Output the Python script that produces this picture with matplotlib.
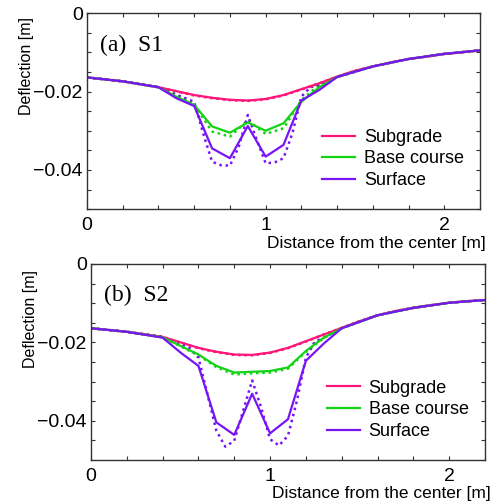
import numpy as np
import matplotlib.pyplot as plt
import matplotlib
from matplotlib.ticker import MultipleLocator, FuncFormatter

matplotlib.rcParams.update({'font.family': ['Liberation Sans', 'DejaVu Sans'],
                            'font.size': 11})

# distance from the center [m]
x_smooth = [0, 0.2, 0.4, 0.6, 0.7, 0.8, 0.9, 1.0, 1.1, 1.2, 1.3, 1.4,
            1.5, 1.6, 1.7, 1.8, 1.9, 2.0, 2.1, 2.2]
x_mid = [0, 0.2, 0.4, 0.5, 0.6, 0.7, 0.8, 0.9, 1.0, 1.1, 1.2, 1.3, 1.4,
         1.6, 1.8, 2.0, 2.2]
x_dot = [0, 0.2, 0.4, 0.5, 0.55, 0.6, 0.65, 0.7, 0.75, 0.8, 0.85, 0.9,
         0.95, 1.0, 1.05, 1.1, 1.15, 1.2, 1.25, 1.3, 1.4, 1.6, 1.8, 2.0, 2.2]

# (a) S1
s1_sub = [-0.0164, -0.0174, -0.0189, -0.0209, -0.0216, -0.0221, -0.0223, -0.0219,
          -0.0209, -0.0194, -0.0179, -0.0162, -0.0147, -0.0136, -0.0126, -0.0117,
          -0.0111, -0.0104, -0.0100, -0.0095]
s1_sub_d = [-0.0164, -0.0174, -0.0189, -0.0210, -0.0217, -0.0222, -0.0224, -0.0220,
            -0.0210, -0.0195, -0.0179, -0.0162, -0.0147, -0.0136, -0.0126, -0.0117,
            -0.0111, -0.0104, -0.0100, -0.0095]
s1_base = [-0.0164, -0.0174, -0.0189, -0.0213, -0.0234, -0.0289, -0.0305, -0.0279,
           -0.0300, -0.0281, -0.0226, -0.0189, -0.0163, -0.0136, -0.0117, -0.0104, -0.0095]
s1_base_d = [-0.0164, -0.0174, -0.0189, -0.0207, -0.0234, -0.0302, -0.0315, -0.0274,
             -0.0308, -0.0294, -0.0222, -0.0183, -0.0163, -0.0136, -0.0117, -0.0104, -0.0095]
s1_surf = [-0.0164, -0.0174, -0.0189, -0.0217, -0.0237, -0.0345, -0.0370, -0.0288,
           -0.0366, -0.0336, -0.0223, -0.0196, -0.0163, -0.0136, -0.0117, -0.0104, -0.0095]
s1_surf_d = [-0.0164, -0.0174, -0.0189, -0.0209, -0.0217, -0.0226, -0.0306, -0.0379,
             -0.0388, -0.0389, -0.0340, -0.0260, -0.0323, -0.0383, -0.0381, -0.0370,
             -0.0306, -0.0213, -0.0189, -0.0183, -0.0163, -0.0136, -0.0117, -0.0104,
             -0.0095]

# (b) S2
s2_sub = [-0.0164, -0.0173, -0.0186, -0.0214, -0.0224, -0.0231, -0.0232, -0.0226,
          -0.0214, -0.0197, -0.0180, -0.0163, -0.0146, -0.0131, -0.0120, -0.0112,
          -0.0105, -0.0099, -0.0095, -0.0092]
s2_sub_d = [-0.0164, -0.0173, -0.0186, -0.0215, -0.0225, -0.0232, -0.0233, -0.0227,
            -0.0215, -0.0198, -0.0180, -0.0163, -0.0146, -0.0131, -0.0120, -0.0112,
            -0.0105, -0.0099, -0.0095, -0.0092]
s2_base = [-0.0164, -0.0173, -0.0187, -0.0209, -0.0231, -0.0260, -0.0277, -0.0275,
           -0.0273, -0.0264, -0.0222, -0.0188, -0.0164, -0.0131, -0.0112, -0.0099, -0.0092]
s2_base_d = [-0.0164, -0.0173, -0.0187, -0.0210, -0.0233, -0.0263, -0.0282, -0.0279,
             -0.0277, -0.0267, -0.0224, -0.0189, -0.0164, -0.0131, -0.0112, -0.0099, -0.0092]
s2_surf = [-0.0164, -0.0173, -0.0188, -0.0226, -0.0260, -0.0404, -0.0436, -0.0331,
           -0.0432, -0.0396, -0.0247, -0.0203, -0.0164, -0.0131, -0.0112, -0.0099, -0.0092]
s2_surf_d = [-0.0164, -0.0173, -0.0186, -0.0205, -0.0214, -0.0239, -0.0332, -0.0425,
             -0.0466, -0.0451, -0.0374, -0.0297, -0.0366, -0.0447, -0.0463, -0.0438,
             -0.0349, -0.0239, -0.0198, -0.0188, -0.0164, -0.0131, -0.0112, -0.0099,
             -0.0092]

c_sub = '#ff1478'
c_base = '#14d214'
c_surf = '#7814f5'

# minus sign formatter for the deflection axis
def fmt_defl(v, pos):
    if abs(v) < 1e-9:
        return '0'
    return ('%.2f' % v).replace('-', '\u2212')

fig = plt.figure(figsize=(4.9, 5.04), dpi=100)
ax1 = fig.add_axes([0.1776, 0.585, 0.802, 0.389])
ax2 = fig.add_axes([0.1857, 0.0873, 0.804, 0.389])

panels = [(ax1, '(a)  S1', 0.73, s1_sub, s1_sub_d, s1_base, s1_base_d, s1_surf, s1_surf_d),
          (ax2, '(b)  S2', 0.72, s2_sub, s2_sub_d, s2_base, s2_base_d, s2_surf, s2_surf_d)]

for ax, tag, ylab_y, sub, sub_d, base, base_d, surf, surf_d in panels:
    ax.plot(x_smooth, sub_d, color=c_sub, lw=1.8, ls=(0, (1, 1.5)))
    ax.plot(x_mid, base_d, color=c_base, lw=1.8, ls=(0, (1, 1.5)))
    ax.plot(x_dot, surf_d, color=c_surf, lw=1.8, ls=(0, (1, 1.5)))
    ax.plot(x_smooth, sub, color=c_sub, lw=1.6, label='Subgrade')
    ax.plot(x_mid, base, color=c_base, lw=1.6, label='Base course')
    ax.plot(x_mid, surf, color=c_surf, lw=1.6, label='Surface')

    ax.set_xlim(0, 2.2)
    ax.set_ylim(-0.05, 0)
    ax.xaxis.set_major_locator(MultipleLocator(1))
    ax.xaxis.set_minor_locator(MultipleLocator(0.2))
    ax.yaxis.set_major_locator(MultipleLocator(0.02))
    ax.yaxis.set_minor_locator(MultipleLocator(0.005))
    ax.yaxis.set_major_formatter(FuncFormatter(fmt_defl))
    ax.tick_params(which='both', direction='in', top=True, right=True,
                   length=3, width=0.8, labelsize=14, color='#333333')
    ax.tick_params(axis='x', pad=6)
    ax.tick_params(axis='y', pad=3)
    for s in ax.spines.values():
        s.set_color('#333333')
        s.set_linewidth(1.0)

    ax.text(0.033, 0.837, tag, transform=ax.transAxes, fontsize=17,
            family=['Liberation Serif', 'DejaVu Serif'], va='center')
    ax.set_ylabel('Deflection [m]', fontsize=11.5)
    ax.yaxis.set_label_coords(-0.135, ylab_y)
    ax.set_xlabel('Distance from the center [m]', fontsize=12.5)
    ax.xaxis.set_label_coords(1.015, -0.135)
    ax.xaxis.label.set_horizontalalignment('right')
    ax.legend(loc='lower right', bbox_to_anchor=(1.0, 0.02), frameon=False,
              fontsize=13, handlelength=1.8, labelspacing=0.25, handletextpad=0.5)

fig.savefig('out.png', dpi=100)
